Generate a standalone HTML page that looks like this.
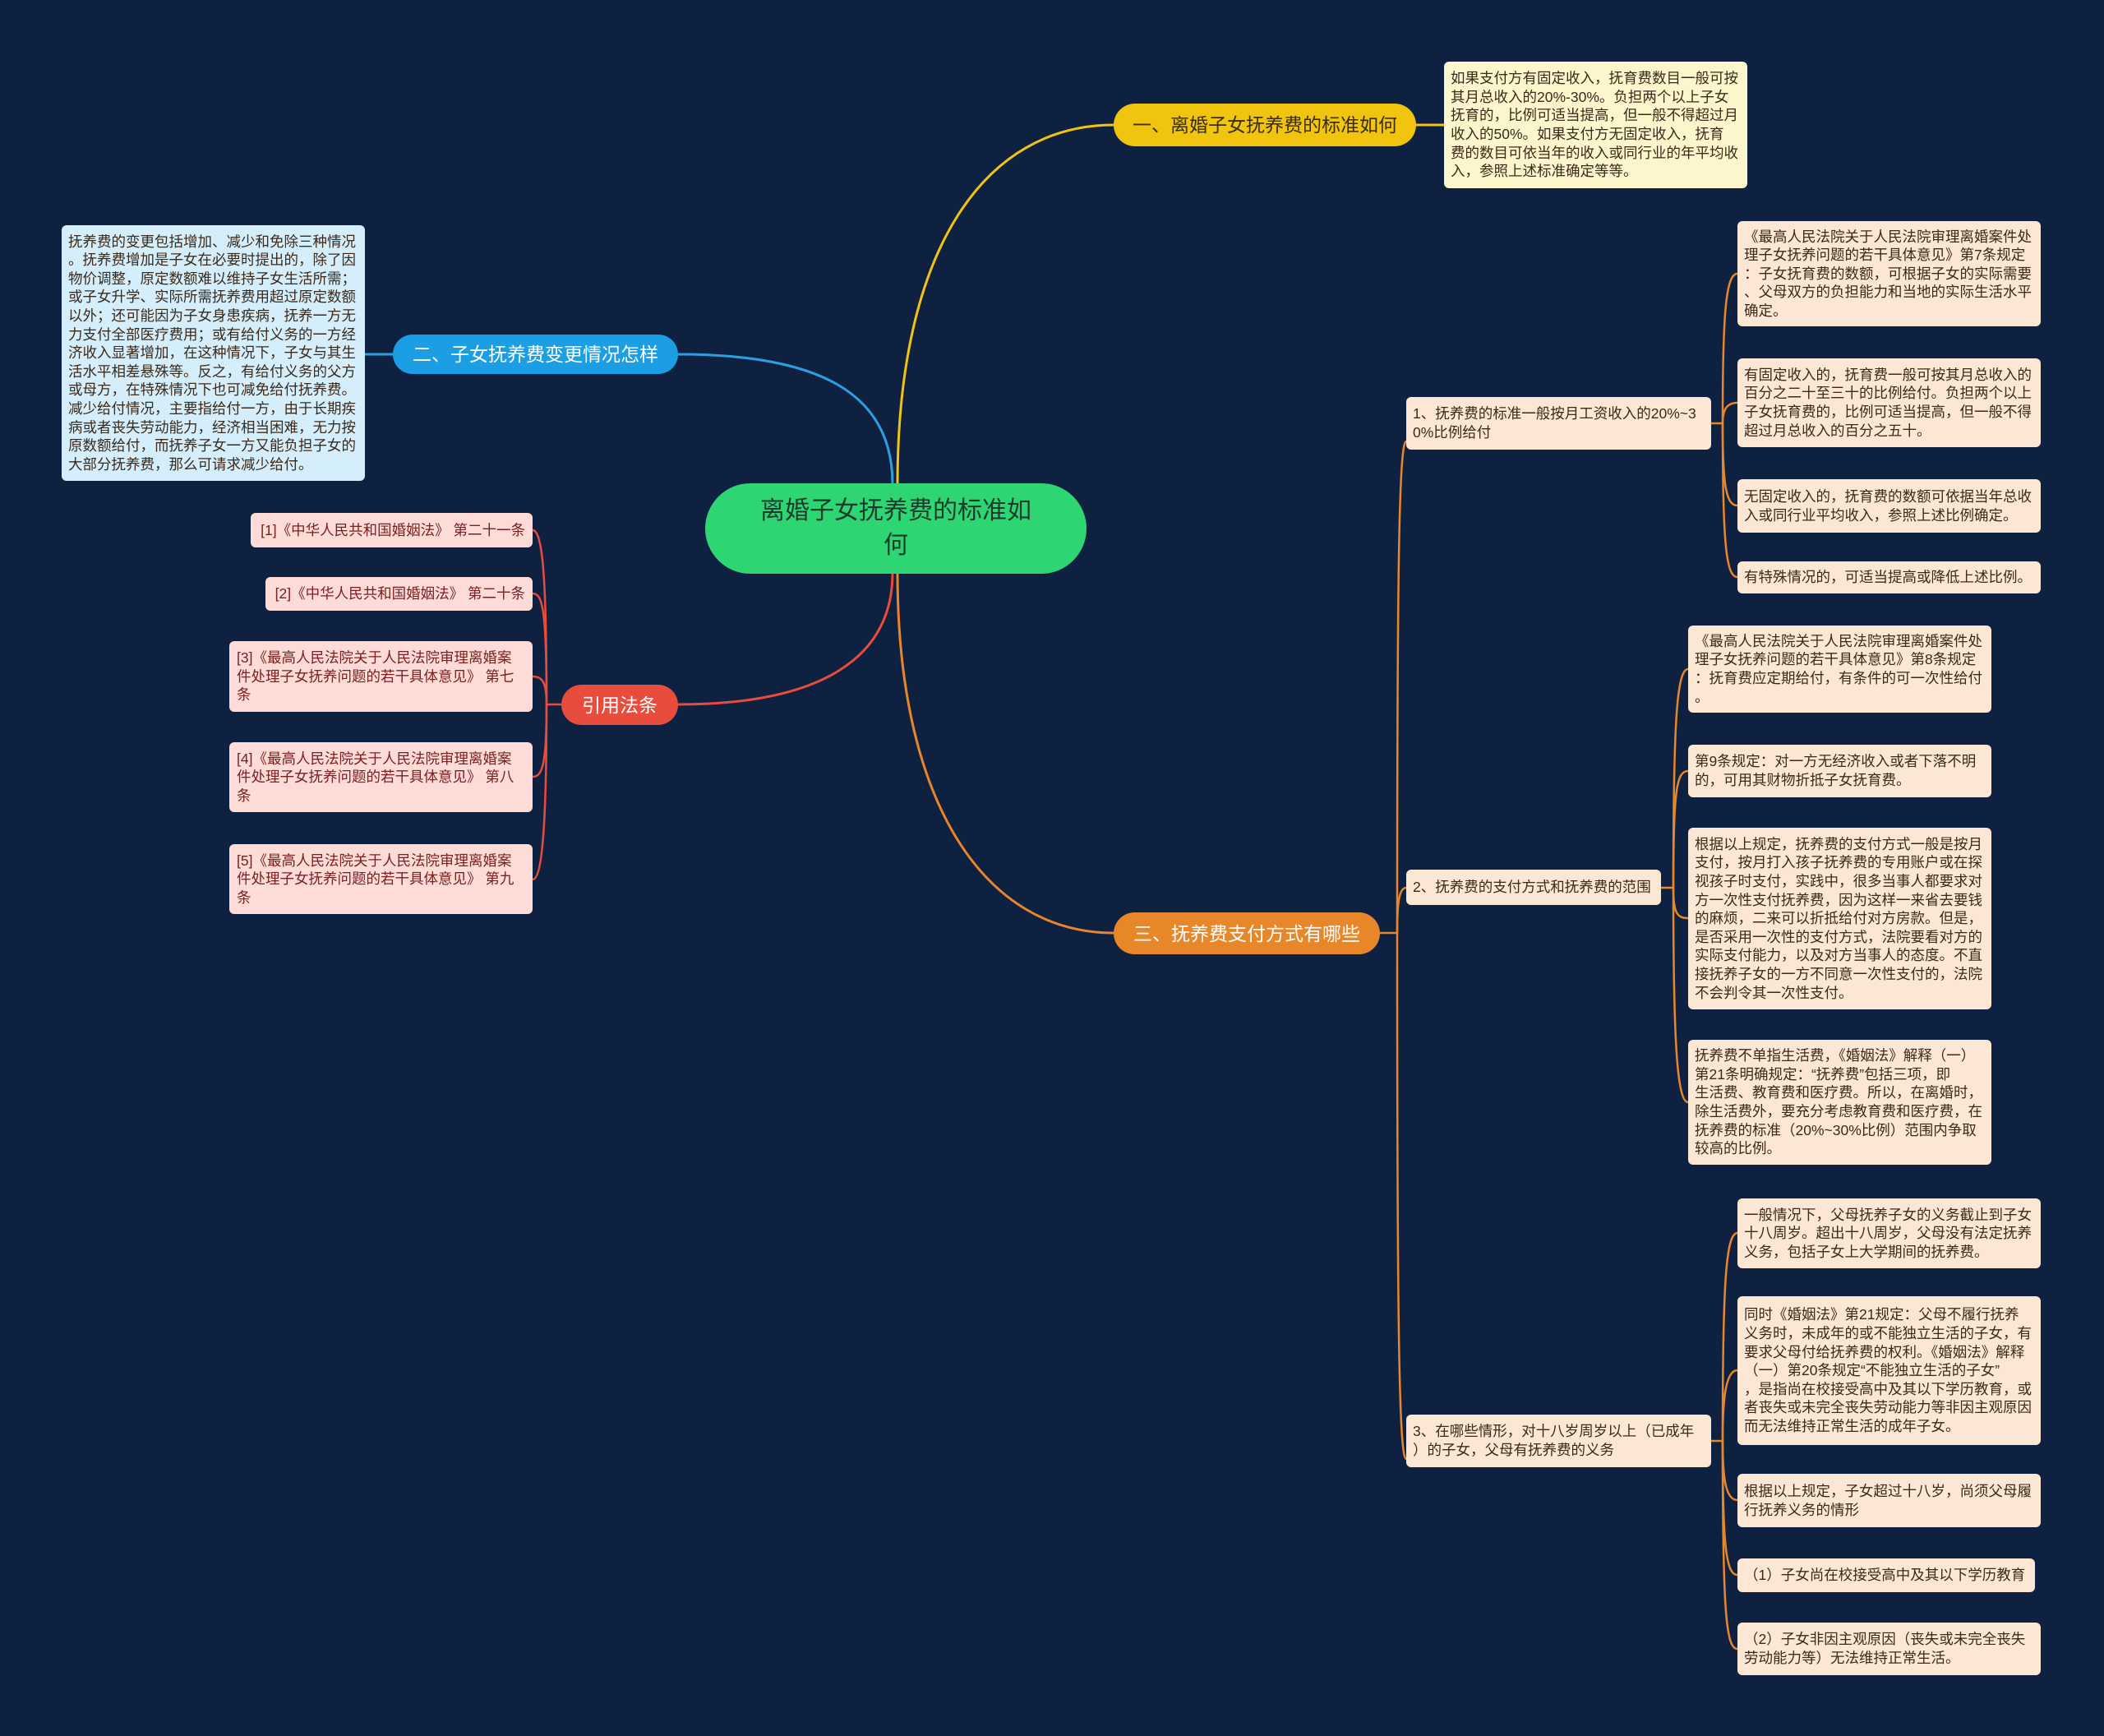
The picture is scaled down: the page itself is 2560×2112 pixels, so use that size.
<!DOCTYPE html>
<html><head><meta charset="utf-8"><style>
*{margin:0;padding:0;box-sizing:border-box}
body{width:2560px;height:2112px;background:#0f2140;position:relative;overflow:hidden;font-family:"Liberation Sans","Noto Sans CJK SC",sans-serif}
.n{position:absolute;display:flex;flex-direction:column;justify-content:center;white-space:nowrap}
.pill{border-radius:30px;align-items:center;text-align:center;font-size:23px;line-height:30px}
.leaf{border-radius:6px;padding:0 8px;font-size:17.5px;line-height:22.6px;color:#3a2a1a;background:#fce7d4}
.sub{border-radius:6px;padding:0 8px;font-size:17.5px;line-height:22.6px;color:#3a2a1a;background:#fce7d4}
.cite{border-radius:6px;padding:0 9px;font-size:17.5px;line-height:22.6px;color:#7a2020;background:#fddcd7}
</style></head><body>
<svg width="2560" height="2112" style="position:absolute;left:0;top:0" fill="none" stroke-width="3">
<path d="M1092 589 C1092 300 1200 152 1355 152" stroke="#f1c40f"/>
<path d="M1086 589 C1086 480 1000 431 825 431" stroke="#2d9fe0"/>
<path d="M1086 697 C1086 800 1000 857 825 857" stroke="#e74c3c"/>
<path d="M1092 697 C1092 980 1200 1135 1355 1135" stroke="#e8862a"/>
<path d="M1723 152 L1757 152" stroke="#f1c40f"/>
<path d="M478 431 L444 431" stroke="#2d9fe0"/>
<g stroke="#e74c3c" stroke-width="2.5">
<path d="M683 857 L665 857 C665 700 660 645 648 645"/>
<path d="M665 857 C665 740 660 722 648 722"/>
<path d="M665 857 C665 830 660 823 648 823"/>
<path d="M665 857 C665 930 660 945 648 945"/>
<path d="M665 857 C665 1000 660 1070 648 1070"/>
</g>
<g stroke="#e8862a" stroke-width="2.5">
<path d="M1679 1135 L1700 1135 C1700 700 1702 537 1711 537"/>
<path d="M1700 1135 C1700 1100 1702 1080 1711 1080"/>
<path d="M1700 1135 C1700 1600 1702 1775 1711 1775"/>
<path d="M2082 515 L2096 515 C2096 380 2100 333 2114 333"/>
<path d="M2096 515 C2096 500 2100 490 2114 490"/>
<path d="M2096 515 C2096 590 2100 615 2114 615"/>
<path d="M2096 515 C2096 660 2100 702 2114 702"/>
<path d="M2021 1080 L2036 1080 C2036 880 2040 814 2054 814"/>
<path d="M2036 1080 C2036 960 2040 938 2054 938"/>
<path d="M2036 1080 C2036 1110 2040 1117 2054 1117"/>
<path d="M2036 1080 C2036 1260 2040 1341 2054 1341"/>
<path d="M2082 1753 L2096 1753 C2096 1560 2100 1500 2114 1500"/>
<path d="M2096 1753 C2096 1700 2100 1667 2114 1667"/>
<path d="M2096 1753 C2096 1800 2100 1825 2114 1825"/>
<path d="M2096 1753 C2096 1880 2100 1916 2114 1916"/>
<path d="M2096 1753 C2096 1960 2100 2006 2114 2006"/>
</g>
</svg>

<div class="n pill" style="left:858px;top:588px;width:464px;height:110px;border-radius:55px;background:#2ed573;color:#1d3b2a;font-size:30px;line-height:42px">离婚子女抚养费的标准如<br>何</div>

<div class="n pill" style="left:1355px;top:126px;width:368px;height:52px;background:#f1c40f;color:#3a2e10">一、离婚子女抚养费的标准如何</div>
<div class="n leaf" style="left:1757px;top:75px;width:369px;height:154px;background:#fdf6cc">如果支付方有固定收入，抚育费数目一般可按<br>其月总收入的20%-30%。负担两个以上子女<br>抚育的，比例可适当提高，但一般不得超过月<br>收入的50%。如果支付方无固定收入，抚育<br>费的数目可依当年的收入或同行业的年平均收<br>入，参照上述标准确定等等。</div>

<div class="n pill" style="left:478px;top:407px;width:347px;height:48px;background:#1b9ee3;color:#fff">二、子女抚养费变更情况怎样</div>
<div class="n leaf" style="left:75px;top:274px;width:369px;height:311px;background:#d5eefb">抚养费的变更包括增加、减少和免除三种情况<br>。抚养费增加是子女在必要时提出的，除了因<br>物价调整，原定数额难以维持子女生活所需；<br>或子女升学、实际所需抚养费用超过原定数额<br>以外；还可能因为子女身患疾病，抚养一方无<br>力支付全部医疗费用；或有给付义务的一方经<br>济收入显著增加，在这种情况下，子女与其生<br>活水平相差悬殊等。反之，有给付义务的父方<br>或母方，在特殊情况下也可减免给付抚养费。<br>减少给付情况，主要指给付一方，由于长期疾<br>病或者丧失劳动能力，经济相当困难，无力按<br>原数额给付，而抚养子女一方又能负担子女的<br>大部分抚养费，那么可请求减少给付。</div>

<div class="n pill" style="left:683px;top:833px;width:142px;height:49px;background:#e74c3c;color:#fff">引用法条</div>
<div class="n cite" style="left:305px;top:624px;width:343px;height:42px;align-items:flex-end">[1]《中华人民共和国婚姻法》 第二十一条</div>
<div class="n cite" style="left:323px;top:702px;width:325px;height:41px;align-items:flex-end">[2]《中华人民共和国婚姻法》 第二十条</div>
<div class="n cite" style="left:279px;top:780px;width:369px;height:86px">[3]《最高人民法院关于人民法院审理离婚案<br>件处理子女抚养问题的若干具体意见》 第七<br>条</div>
<div class="n cite" style="left:279px;top:903px;width:369px;height:85px">[4]《最高人民法院关于人民法院审理离婚案<br>件处理子女抚养问题的若干具体意见》 第八<br>条</div>
<div class="n cite" style="left:279px;top:1027px;width:369px;height:85px">[5]《最高人民法院关于人民法院审理离婚案<br>件处理子女抚养问题的若干具体意见》 第九<br>条</div>

<div class="n pill" style="left:1355px;top:1110px;width:324px;height:51px;background:#e8862a;color:#fff">三、抚养费支付方式有哪些</div>

<div class="n sub" style="left:1711px;top:483px;width:371px;height:64px">1、抚养费的标准一般按月工资收入的20%~3<br>0%比例给付</div>
<div class="n leaf" style="left:2114px;top:269px;width:369px;height:128px">《最高人民法院关于人民法院审理离婚案件处<br>理子女抚养问题的若干具体意见》第7条规定<br>：子女抚育费的数额，可根据子女的实际需要<br>、父母双方的负担能力和当地的实际生活水平<br>确定。</div>
<div class="n leaf" style="left:2114px;top:436px;width:369px;height:108px">有固定收入的，抚育费一般可按其月总收入的<br>百分之二十至三十的比例给付。负担两个以上<br>子女抚育费的，比例可适当提高，但一般不得<br>超过月总收入的百分之五十。</div>
<div class="n leaf" style="left:2114px;top:583px;width:369px;height:65px">无固定收入的，抚育费的数额可依据当年总收<br>入或同行业平均收入，参照上述比例确定。</div>
<div class="n leaf" style="left:2114px;top:683px;width:369px;height:39px">有特殊情况的，可适当提高或降低上述比例。</div>

<div class="n sub" style="left:1711px;top:1058px;width:310px;height:43px">2、抚养费的支付方式和抚养费的范围</div>
<div class="n leaf" style="left:2054px;top:761px;width:369px;height:106px">《最高人民法院关于人民法院审理离婚案件处<br>理子女抚养问题的若干具体意见》第8条规定<br>：抚育费应定期给付，有条件的可一次性给付<br>。</div>
<div class="n leaf" style="left:2054px;top:906px;width:369px;height:64px">第9条规定：对一方无经济收入或者下落不明<br>的，可用其财物折抵子女抚育费。</div>
<div class="n leaf" style="left:2054px;top:1007px;width:369px;height:221px">根据以上规定，抚养费的支付方式一般是按月<br>支付，按月打入孩子抚养费的专用账户或在探<br>视孩子时支付，实践中，很多当事人都要求对<br>方一次性支付抚养费，因为这样一来省去要钱<br>的麻烦，二来可以折抵给付对方房款。但是，<br>是否采用一次性的支付方式，法院要看对方的<br>实际支付能力，以及对方当事人的态度。不直<br>接抚养子女的一方不同意一次性支付的，法院<br>不会判令其一次性支付。</div>
<div class="n leaf" style="left:2054px;top:1265px;width:369px;height:152px">抚养费不单指生活费，《婚姻法》解释（一）<br>第21条明确规定：“抚养费”包括三项，即<br>生活费、教育费和医疗费。所以，在离婚时，<br>除生活费外，要充分考虑教育费和医疗费，在<br>抚养费的标准（20%~30%比例）范围内争取<br>较高的比例。</div>

<div class="n sub" style="left:1711px;top:1721px;width:371px;height:64px">3、在哪些情形，对十八岁周岁以上（已成年<br>）的子女，父母有抚养费的义务</div>
<div class="n leaf" style="left:2114px;top:1458px;width:369px;height:85px">一般情况下，父母抚养子女的义务截止到子女<br>十八周岁。超出十八周岁，父母没有法定抚养<br>义务，包括子女上大学期间的抚养费。</div>
<div class="n leaf" style="left:2114px;top:1577px;width:369px;height:181px">同时《婚姻法》第21规定：父母不履行抚养<br>义务时，未成年的或不能独立生活的子女，有<br>要求父母付给抚养费的权利。《婚姻法》解释<br>（一）第20条规定“不能独立生活的子女”<br>，是指尚在校接受高中及其以下学历教育，或<br>者丧失或未完全丧失劳动能力等非因主观原因<br>而无法维持正常生活的成年子女。</div>
<div class="n leaf" style="left:2114px;top:1793px;width:369px;height:65px">根据以上规定，子女超过十八岁，尚须父母履<br>行抚养义务的情形</div>
<div class="n leaf" style="left:2114px;top:1896px;width:362px;height:41px">（1）子女尚在校接受高中及其以下学历教育</div>
<div class="n leaf" style="left:2114px;top:1974px;width:369px;height:64px">（2）子女非因主观原因（丧失或未完全丧失<br>劳动能力等）无法维持正常生活。</div>
</body></html>
